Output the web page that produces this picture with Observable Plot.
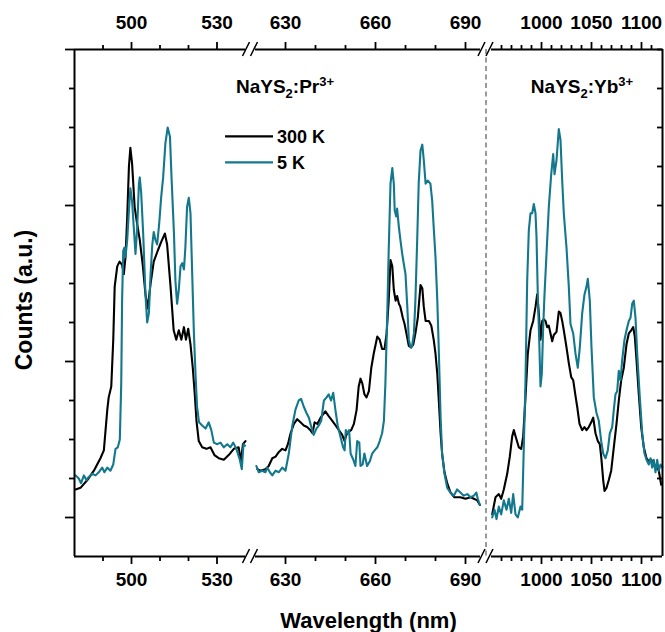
<!DOCTYPE html>
<html><head><meta charset="utf-8">
<script src="https://cdn.jsdelivr.net/npm/d3@7"></script>
<script src="https://cdn.jsdelivr.net/npm/@observablehq/plot@0.6"></script>
<style>
body{margin:0;background:#fff;}
#chart svg{font-family:"Liberation Sans",Arial,sans-serif;}
</style></head><body><div id="chart"></div>
<script>
// ---------- data: [wavelength (nm), counts (a.u.)] ----------
const seriesNames = ["300 K", "5 K"];
const seriesColors = ["#000000", "#13788d"];

const prGreen300K = [[480.4,0.18],[482.1,0.19],[484.5,0.24],[486.8,0.30],[489.1,0.38],[490.3,0.43],[491.5,0.69],[492.0,0.77],[492.9,0.84],[493.6,1.14],[494.1,1.48],[495.0,1.61],[495.8,1.64],[496.7,1.62],[497.3,1.56],[497.9,1.67],[498.5,1.93],[499.1,2.25],[499.6,2.37],[500.2,2.27],[501.1,1.99],[502.0,1.88],[502.9,1.78],[504.0,1.61],[504.9,1.43],[505.7,1.34],[506.7,1.50],[507.8,1.64],[509.2,1.71],[510.5,1.77],[511.7,1.82],[512.5,1.75],[513.7,1.48],[514.8,1.20],[515.7,1.14],[516.6,1.20],[517.5,1.14],[518.4,1.22],[519.1,1.14],[519.9,1.21],[520.7,1.11],[521.5,0.96],[522.2,0.79],[522.8,0.62],[523.6,0.49],[524.8,0.45],[526.3,0.44],[527.7,0.45],[529.1,0.40],[530.6,0.38],[532.4,0.37],[534.1,0.40],[535.9,0.44],[537.6,0.45],[538.4,0.36],[539.1,0.47],[540.0,0.49]];

const prGreen5K = [[480.4,0.27],[481.5,0.25],[482.3,0.22],[483.3,0.27],[484.2,0.24],[485.0,0.26],[486.2,0.28],[487.4,0.27],[488.5,0.29],[489.7,0.32],[490.5,0.29],[491.5,0.32],[492.6,0.30],[493.6,0.34],[494.4,0.44],[495.2,0.45],[495.9,0.50],[496.4,0.86],[496.7,1.39],[497.1,1.71],[497.5,1.73],[497.9,1.67],[498.5,1.78],[499.1,1.97],[499.6,2.11],[500.2,2.03],[500.8,1.86],[501.4,1.69],[502.0,1.86],[502.6,2.14],[502.9,2.18],[503.4,2.08],[504.1,1.82],[504.9,1.43],[505.5,1.25],[506.1,1.31],[506.7,1.56],[507.3,1.75],[507.8,1.83],[508.4,1.78],[509.0,1.75],[509.7,1.88],[510.4,2.05],[511.1,2.18],[511.9,2.40],[512.7,2.50],[513.5,2.44],[514.0,2.20],[514.9,1.82],[515.4,1.52],[516.0,1.37],[516.6,1.46],[517.2,1.61],[517.8,1.63],[518.4,1.59],[518.9,1.73],[519.5,1.99],[520.1,2.05],[520.7,1.95],[521.3,1.56],[521.9,1.18],[522.5,0.90],[523.0,0.71],[523.7,0.61],[524.8,0.59],[526.0,0.57],[527.1,0.61],[528.0,0.56],[528.9,0.48],[530.1,0.47],[531.2,0.48],[532.4,0.45],[533.6,0.47],[534.7,0.45],[535.7,0.48],[536.8,0.44],[538.0,0.37],[538.7,0.31],[539.3,0.47],[539.8,0.46]];

const prRed300K = [[620.6,0.31],[621.7,0.30],[623.3,0.31],[624.4,0.33],[625.6,0.38],[626.7,0.39],[627.8,0.42],[628.9,0.44],[630.0,0.43],[630.8,0.47],[631.7,0.54],[632.8,0.60],[633.9,0.63],[635.0,0.61],[636.1,0.59],[637.2,0.58],[638.3,0.56],[639.0,0.54],[639.7,0.61],[640.6,0.60],[641.7,0.64],[643.3,0.68],[644.4,0.65],[645.6,0.62],[646.7,0.59],[647.8,0.56],[648.9,0.53],[649.7,0.49],[650.3,0.53],[651.1,0.55],[651.9,0.56],[652.8,0.60],[653.7,0.69],[654.4,0.84],[655.0,0.89],[655.6,0.86],[656.3,0.79],[657.0,0.77],[657.8,0.81],[658.6,0.96],[659.4,1.05],[660.6,1.16],[661.4,1.14],[662.2,1.08],[663.0,1.08],[663.7,1.18],[664.4,1.39],[665.0,1.65],[665.6,1.61],[666.1,1.46],[666.7,1.39],[667.2,1.42],[667.8,1.37],[668.3,1.35],[669.1,1.28],[669.7,1.24],[670.3,1.18],[671.1,1.10],[671.9,1.09],[672.6,1.11],[673.3,1.18],[674.1,1.28],[675.0,1.49],[675.6,1.47],[676.1,1.35],[676.7,1.26],[677.8,1.26],[678.6,1.23],[679.4,1.14],[680.0,1.05],[680.6,0.92],[681.1,0.75],[681.7,0.54],[682.2,0.41],[683.0,0.29],[683.9,0.22],[685.0,0.16],[686.3,0.13],[688.3,0.13],[690.0,0.12],[691.7,0.13],[692.8,0.12],[693.9,0.11],[694.8,0.08]];

const prRed5K = [[620.3,0.33],[621.1,0.29],[622.2,0.30],[623.3,0.29],[623.9,0.32],[624.8,0.29],[625.6,0.27],[626.7,0.30],[627.8,0.29],[628.9,0.32],[630.0,0.30],[631.1,0.41],[632.2,0.58],[633.3,0.69],[634.4,0.75],[635.2,0.76],[636.1,0.71],[637.0,0.67],[637.8,0.64],[638.6,0.58],[639.4,0.53],[640.3,0.57],[641.1,0.59],[641.9,0.62],[642.8,0.75],[643.7,0.77],[644.4,0.79],[645.2,0.75],[645.9,0.80],[646.7,0.68],[647.4,0.59],[648.3,0.52],[649.2,0.45],[649.7,0.43],[650.1,0.56],[650.8,0.54],[651.2,0.56],[651.7,0.41],[652.6,0.37],[653.3,0.33],[653.9,0.49],[654.6,0.48],[655.0,0.33],[655.7,0.34],[656.3,0.41],[657.2,0.33],[658.1,0.36],[658.9,0.41],[659.7,0.43],[660.6,0.45],[661.4,0.49],[662.2,0.54],[662.8,0.62],[663.3,0.86],[663.9,1.28],[664.4,1.71],[665.0,2.14],[665.6,2.24],[666.1,2.14],[666.4,1.97],[666.9,1.93],[667.2,1.98],[667.8,1.86],[668.3,1.78],[668.9,1.69],[669.4,1.63],[670.0,1.56],[670.6,1.35],[671.1,1.14],[671.7,1.09],[672.2,1.10],[672.8,1.18],[673.3,1.39],[673.9,1.78],[674.4,2.14],[675.0,2.35],[675.6,2.39],[676.1,2.29],[676.7,2.14],[677.4,2.16],[678.3,2.14],[678.9,2.03],[679.4,1.86],[680.0,1.67],[680.6,1.39],[681.1,1.07],[681.7,0.64],[682.2,0.41],[683.0,0.28],[683.9,0.19],[685.0,0.16],[686.1,0.14],[687.2,0.18],[688.3,0.16],[689.4,0.14],[690.6,0.15],[691.7,0.13],[692.8,0.14],[693.6,0.16],[694.1,0.12],[694.8,0.08]];

const yb300K = [[950.7,0.02],[954.0,0.13],[957.3,0.15],[959.7,0.12],[962.3,0.18],[965.7,0.28],[968.3,0.39],[970.7,0.52],[972.3,0.56],[975.0,0.50],[977.3,0.45],[979.7,0.44],[981.7,0.52],[984.0,0.77],[986.3,1.05],[989.0,1.20],[991.7,1.26],[994.0,1.35],[995.7,1.43],[997.3,1.31],[999.0,1.14],[1000.7,1.26],[1002.3,1.27],[1004.0,1.26],[1005.7,1.22],[1007.3,1.23],[1009.0,1.18],[1010.7,1.13],[1012.3,1.17],[1015.0,1.19],[1017.3,1.32],[1019.0,1.31],[1020.7,1.26],[1022.3,1.20],[1025.0,1.09],[1027.3,0.99],[1029.7,0.90],[1031.7,0.88],[1034.0,0.78],[1035.7,0.71],[1038.0,0.60],[1040.7,0.56],[1043.0,0.58],[1045.0,0.56],[1047.3,0.58],[1049.7,0.61],[1051.7,0.64],[1054.0,0.54],[1056.3,0.49],[1058.3,0.47],[1059.7,0.39],[1061.7,0.24],[1063.0,0.17],[1065.0,0.19],[1067.3,0.24],[1069.7,0.30],[1072.3,0.45],[1075.0,0.60],[1077.3,0.75],[1079.7,0.88],[1082.3,0.96],[1085.0,1.11],[1087.3,1.18],[1089.7,1.20],[1091.7,1.22],[1093.3,1.16],[1095.0,1.01],[1097.3,0.79],[1099.7,0.58],[1102.3,0.45],[1105.0,0.38],[1107.3,0.36],[1109.7,0.37],[1112.3,0.34],[1115.0,0.33],[1117.3,0.30],[1119.7,0.21]];

const yb5K = [[950.7,0.00],[953.0,0.05],[955.0,-0.01],[957.3,0.07],[959.7,0.02],[962.3,0.11],[965.0,0.05],[967.3,0.12],[969.7,0.03],[971.7,0.15],[974.0,0.02],[976.3,0.00],[979.0,0.07],[980.7,0.05],[982.3,0.45],[984.0,0.88],[985.7,1.52],[987.3,1.84],[989.0,1.95],[990.7,1.95],[992.3,2.01],[994.0,1.95],[995.0,1.80],[996.3,1.43],[997.7,1.14],[999.0,0.84],[1000.3,0.92],[1001.7,1.22],[1003.0,1.43],[1005.0,1.69],[1007.3,1.99],[1009.7,2.20],[1011.7,2.33],[1013.0,2.20],[1015.0,2.29],[1017.3,2.49],[1019.0,2.42],[1020.7,2.16],[1022.3,1.95],[1025.0,1.73],[1027.3,1.48],[1029.0,1.24],[1031.7,1.18],[1034.0,1.05],[1036.3,0.96],[1038.3,1.09],[1040.7,1.31],[1043.0,1.43],[1045.0,1.48],[1046.3,1.53],[1048.3,1.39],[1050.0,1.09],[1052.3,0.77],[1055.0,0.67],[1057.3,0.62],[1059.7,0.49],[1061.7,0.41],[1064.0,0.38],[1066.3,0.43],[1068.3,0.54],[1070.7,0.58],[1072.3,0.69],[1074.0,0.79],[1075.7,0.81],[1077.3,0.94],[1079.0,0.88],[1080.7,1.01],[1083.0,1.14],[1085.0,1.20],[1087.3,1.26],[1089.0,1.28],[1090.7,1.37],[1092.3,1.39],[1094.0,1.28],[1095.7,1.05],[1098.3,0.77],[1100.7,0.54],[1103.0,0.41],[1105.0,0.37],[1107.3,0.34],[1109.0,0.38],[1110.7,0.32],[1112.3,0.37],[1114.0,0.29],[1115.7,0.37],[1117.3,0.30],[1119.0,0.34],[1120.7,0.32]];

// tick values
const xMajorTicks = [500, 530, 630, 660, 690, 1000, 1050, 1100];
const xMinorTicks = [490, 510, 520, 640, 650, 670, 680, 960, 970, 980, 990, 1010, 1020, 1030, 1040, 1060, 1070, 1080, 1090, 1110];
const yMajorTicks = [0, 1, 2, 3];
const yMinorTicks = [0.25, 0.5, 0.75, 1.25, 1.5, 1.75, 2.25, 2.5, 2.75];

// axis segments (broken wavelength axis)
const segmentDomains = [[480, 540], [620, 695], [950, 1121]];
const countsDomain = [-0.25, 3];

// ---------- build table ----------
const rows = [];
[[prGreen300K, "300 K", "a"], [prRed300K, "300 K", "b"], [yb300K, "300 K", "c"],
 [prGreen5K, "5 K", "a"], [prRed5K, "5 K", "b"], [yb5K, "5 K", "c"]].forEach(([arr, s, seg]) => {
  arr.forEach(([nm, c]) => rows.push({nm, counts: c, series: s, seg: s + seg}));
});

const frameSegs = segmentDomains.flatMap(([a, b]) => [
  {y: countsDomain[0], x1: a, x2: b}, {y: countsDomain[1], x1: a, x2: b}
]);

const INK = "#000";
const SW = 1.8;

function breakMarks(index, {x, y}) {
  const g = d3.create("svg:g").attr("stroke", INK).attr("stroke-width", 1.5).attr("fill", "none");
  const yTop = y(countsDomain[1]), yBot = y(countsDomain[0]);
  for (let i = 0; i < segmentDomains.length - 1; i++) {
    const xb = (x(segmentDomains[i][1]) + x(segmentDomains[i + 1][0])) / 2;
    for (const yy of [yTop, yBot]) for (const o of [-4, 4]) {
      g.append("line").attr("x1", xb + o - 3.5).attr("y1", yy + 7).attr("x2", xb + o + 3.5).attr("y2", yy - 7);
    }
  }
  return g.node();
}

function annotations(index, {x, y}) {
  const g = d3.create("svg:g").attr("font-weight", "bold").attr("fill", INK);
  const ion = (cx, cy, el) => {
    const t = g.append("text").attr("x", cx).attr("y", cy).attr("text-anchor", "middle").attr("font-size", 19);
    t.append("tspan").text("NaYS");
    t.append("tspan").attr("dy", 5).attr("font-size", 13).text("2");
    t.append("tspan").attr("dy", -5).text(":" + el);
    t.append("tspan").attr("dy", -7).attr("font-size", 13).text("3+");
  };
  ion(x(630), y(2.72), "Pr");
  ion(x(1041), y(2.72), "Yb");
  // legend
  const lg = g.append("g").attr("font-size", 18).attr("text-anchor", "start");
  seriesNames.forEach((s, i) => {
    const yy = y(2.44) + i * 26;
    lg.append("line").attr("x1", x(533)).attr("x2", x(626)).attr("y1", yy).attr("y2", yy)
      .attr("stroke", seriesColors[i]).attr("stroke-width", 2.2);
    lg.append("text").attr("x", x(626) + 4).attr("y", yy).attr("dy", "0.36em").text(s);
  });
  return g.node();
}

const chart = Plot.plot({
  width: 665,
  height: 632,
  marginLeft: 74,
  marginRight: 3,
  marginTop: 49,
  marginBottom: 76,
  style: {fontFamily: "'Liberation Sans', Arial, sans-serif", color: INK, background: "#fff"},
  x: {type: "linear", domain: [480, 540, 620, 695, 950, 1121], range: [74, 245, 255, 480, 491, 662], axis: null},
  y: {domain: countsDomain, range: [556, 49], axis: null},
  color: {domain: seriesNames, range: seriesColors},
  marks: [
    Plot.ruleX([(segmentDomains[1][1] + segmentDomains[2][0]) / 2], {stroke: "#7a7a7a", strokeWidth: 1.5, strokeDasharray: "5,3.5"}),
    Plot.line(rows, {x: "nm", y: "counts", z: "seg", stroke: "series", strokeWidth: 2.1, strokeLinejoin: "round"}),
    Plot.ruleY(frameSegs, {y: "y", x1: "x1", x2: "x2", stroke: INK, strokeWidth: 2}),
    Plot.ruleX([segmentDomains[0][0], segmentDomains[2][1]], {stroke: INK, strokeWidth: 2}),
    Plot.axisX(xMajorTicks, {anchor: "bottom", tickSize: 8, tickPadding: 8, fontSize: 19, fontWeight: "bold", tickFormat: d => String(d), strokeWidth: SW, label: null}),
    Plot.axisX(xMinorTicks, {anchor: "bottom", tickSize: 5, fill: "none", strokeWidth: SW, label: null}),
    Plot.axisX(xMajorTicks, {anchor: "top", tickSize: 8, tickPadding: 13, fontSize: 19, fontWeight: "bold", tickFormat: d => String(d), strokeWidth: SW, label: null}),
    Plot.axisX(xMinorTicks, {anchor: "top", tickSize: 5, fill: "none", strokeWidth: SW, label: null}),
    Plot.axisY(yMajorTicks, {anchor: "left", tickSize: 9, fill: "none", strokeWidth: SW, label: null}),
    Plot.axisY(yMinorTicks, {anchor: "left", tickSize: 5, fill: "none", strokeWidth: SW, label: null}),
    Plot.axisY([...yMajorTicks, ...yMinorTicks], {anchor: "right", tickSize: -6, fill: "none", strokeWidth: SW, label: null}),
    breakMarks,
    annotations,
    Plot.text(["Wavelength (nm)"], {frameAnchor: "bottom", textAnchor: "middle", lineAnchor: "bottom", dy: 71, fontSize: 22, fontWeight: "bold", fill: INK}),
    Plot.text(["Counts (a.u.)"], {frameAnchor: "left", textAnchor: "middle", rotate: -90, dx: -50, dy: -3, fontSize: 23, fontWeight: "bold", fill: INK})
  ]
});
document.getElementById("chart").append(chart);
</script>
</body></html>
